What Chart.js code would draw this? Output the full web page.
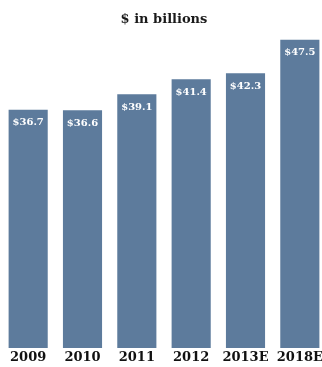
<!DOCTYPE html>
<html>
<head>
<meta charset="utf-8">
<script src="https://cdn.jsdelivr.net/npm/chart.js@4"></script>
<style>
    html, body { margin: 0; padding: 0; background: #fff; overflow: hidden; }
    canvas { display: block; }
</style>
</head>
<body>
<canvas id="spendChart" width="328" height="367"></canvas>
<script>
// revenue by year, last two are estimates
const years = ['2009', '2010', '2011', '2012', '2013E', '2018E'];
const billions = [36.7, 36.6, 39.1, 41.4, 42.3, 47.5];

const serif = 'DejaVu Serif';

// dollar value written inside the top of each bar
const barValues = {
    id: 'barValues',
    afterDatasetsDraw(chart) {
        const ctx = chart.ctx;
        const meta = chart.getDatasetMeta(0);
        ctx.save();
        ctx.fillStyle = '#ffffff';
        ctx.font = 'bold 10px "' + serif + '"';
        ctx.textAlign = 'center';
        ctx.textBaseline = 'middle';
        meta.data.forEach((bar, i) => {
            ctx.fillText('$' + billions[i].toFixed(1), bar.x, bar.y + 13);
        });
        ctx.restore();
    }
};

const ctx = document.getElementById('spendChart').getContext('2d');
const spendChart = new Chart(ctx, {
    type: 'bar',
    data: {
        labels: years,
        datasets: [{
            data: billions,
            backgroundColor: '#5d7b9c',
            borderWidth: 0,
            barPercentage: 0.72,
            categoryPercentage: 1.0
        }]
    },
    options: {
        responsive: false,
        animation: false,
        layout: {
            padding: { top: 12, left: 1, right: 1, bottom: 0 }
        },
        plugins: {
            legend: { display: false },
            tooltip: { enabled: false },
            title: {
                display: true,
                text: '$ in billions',
                color: '#1a1a1a',
                font: { family: serif, size: 13, weight: 'bold' },
                padding: { top: 0, bottom: 12 }
            }
        },
        scales: {
            x: {
                grid: { display: false, drawTicks: false },
                border: { display: false },
                ticks: {
                    color: '#111',
                    padding: 3,
                    maxRotation: 0,
                    autoSkip: false,
                    font: { family: serif, size: 13, weight: 'bold', lineHeight: 1 }
                }
            },
            y: {
                display: false,
                min: 0,
                max: 47.5
            }
        }
    },
    plugins: [barValues]
});
</script>
</body>
</html>
